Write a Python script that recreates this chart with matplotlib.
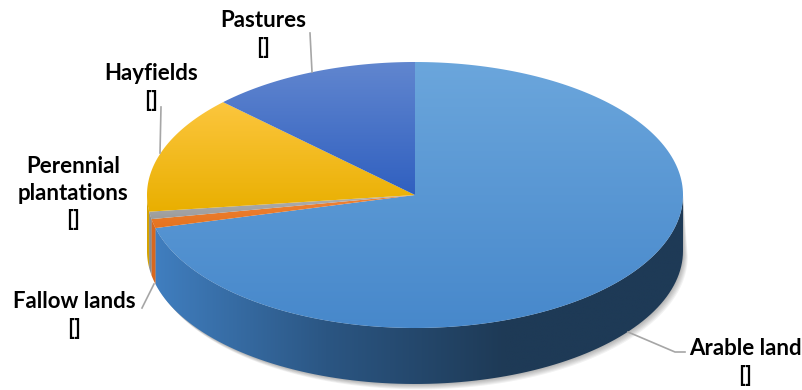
import numpy as np
import matplotlib
matplotlib.use("Agg")
import matplotlib.pyplot as plt
from matplotlib.patches import Polygon
from matplotlib.colors import LinearSegmentedColormap

# slice data, clockwise from 12 o'clock
categories = ["Arable land", "Fallow lands", "Perennial plantations", "Hayfields", "Pastures"]
values = [71.0, 1.1, 0.9, 14.3, 12.7]
label_text = ["Arable land\n[]", "Fallow lands\n[]", "Perennial\nplantations\n[]", "Hayfields\n[]", "Pastures\n[]"]

top_colors = [("#6ba6dc", "#4788cb"), ("#f08438", "#e5731f"), ("#b0b0b0", "#9c9c9c"),
              ("#fcc63e", "#e9af00"), ("#6186cf", "#3060c0")]
side_colors = [["#4180c2", "#2b5683", "#1e3a56", "#1e3a56"], ["#d8691f", "#c05a18"],
               ["#8c8c8c", "#7a7a7a"], ["#d6a300", "#c69400"], ["#2d55a8", "#22448a"]]

cx, cy, a, b, depth = 415, 195, 268, 133, 56


def ell(th, dz=0):
    return cx + a * np.cos(th), cy - b * np.sin(th) + dz


def fill_grad(ax, verts, colors, horizontal=False, z=2):
    poly = Polygon(verts, closed=True, facecolor="none", edgecolor="none")
    ax.add_patch(poly)
    xs, ys = verts[:, 0], verts[:, 1]
    cmap = LinearSegmentedColormap.from_list("g", colors)
    grad = np.linspace(0, 1, 256)
    if horizontal:
        img = grad[None, :]
        ext = (147, 684, ys.max(), ys.min())
    else:
        img = grad[:, None]
        ext = (xs.min(), xs.max(), ys.max(), ys.min())
    im = ax.imshow(img, cmap=cmap, extent=ext, aspect="auto", interpolation="bilinear", zorder=z)
    im.set_clip_path(poly)


fig = plt.figure(figsize=(8.03, 3.90), dpi=100)
ax = fig.add_axes([0, 0, 1, 1])
ax.set_xlim(0, 803)
ax.set_ylim(390, 0)
ax.axis("off")

total = sum(values)
bounds = [np.pi / 2]
for v in values:
    bounds.append(bounds[-1] - 2 * np.pi * v / total)

# soft shadow under the front side
t = np.linspace(0, -np.pi, 200)
sx, sy = ell(t, depth)
for k in range(1, 7):
    pts = np.column_stack([np.r_[sx + k * 0.8, sx[::-1]], np.r_[sy + k * 0.9, sy[::-1] - depth]])
    ax.add_patch(Polygon(pts, closed=True, facecolor="#000000", alpha=0.05, edgecolor="none", zorder=1))

# side walls (front half only)
for i, (t1, t2) in enumerate(zip(bounds[:-1], bounds[1:])):
    for off in (0, -2 * np.pi):
        lo, hi = max(t2 - off, -np.pi), min(t1 - off, 0)
        if hi > lo:
            th = np.linspace(hi, lo, 100)
            x0, y0 = ell(th)
            x1, y1 = ell(th[::-1], depth)
            verts = np.column_stack([np.r_[x0, x1], np.r_[y0, y1]])
            fill_grad(ax, verts, side_colors[i], horizontal=True, z=2)

# top faces
for i, (t1, t2) in enumerate(zip(bounds[:-1], bounds[1:])):
    th = np.linspace(t1, t2, 200)
    x0, y0 = ell(th)
    verts = np.column_stack([np.r_[cx, x0], np.r_[cy, y0]])
    fill_grad(ax, verts, top_colors[i], z=3)

# leader lines
lc = "#a6a6a6"
ax.plot([628, 675, 685], [332, 352, 352], color=lc, lw=1.2, zorder=4)
ax.plot([142, 154], [308, 284], color=lc, lw=1.2, zorder=4)
ax.plot([160, 161], [153, 107], color=lc, lw=1.2, zorder=4)
ax.plot([312, 310], [72, 33], color=lc, lw=1.2, zorder=4)

label_pos = [(745, 362), (74, 315), (73, 193), (151, 87), (263, 34)]
for txt, (lx, ly) in zip(label_text, label_pos):
    ax.text(lx, ly, txt, ha="center", va="center", multialignment="center",
            fontsize=16, fontweight="bold", family="Lato", linespacing=1.3, zorder=5)

fig.savefig("out.png", dpi=100)
